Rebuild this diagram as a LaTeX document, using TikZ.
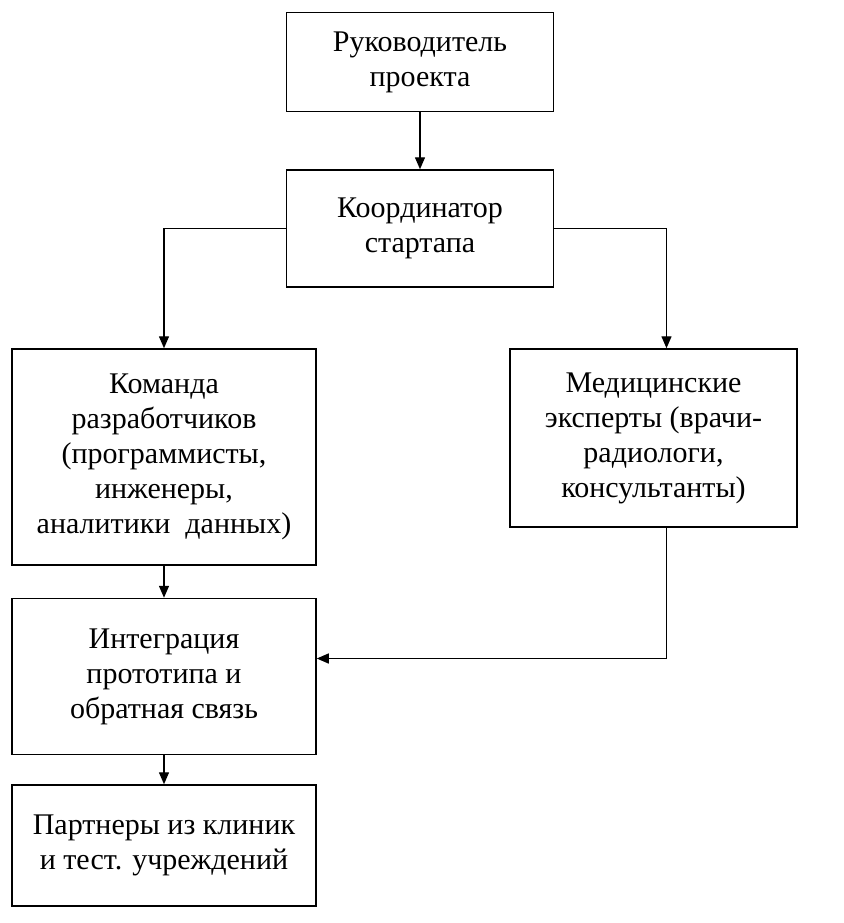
\documentclass[tikz,border=0pt]{standalone}
\usepackage{fontspec}
\setmainfont{Liberation Serif}
\usepackage{tikz}
\usetikzlibrary{arrows.meta, positioning}
\tikzset{
  % Org chart styles
  orgbox/.style={rectangle, draw=black, line width=0.75pt, fill=white, align=center, inner sep=2pt,
    font=\fontsize{15pt}{17.5pt}\selectfont},
  arrow/.style={-{Triangle[length=6pt, width=5pt]}, line width=0.7pt},
  link/.style={line width=0.7pt},
}

\begin{document}
\begin{tikzpicture}[x=0.5pt, y=-0.5pt]
    \useasboundingbox (0,0) rectangle (843,923);

    % Top
    \node[orgbox, minimum width=133.5pt, minimum height=49.5pt] (lead) at (420,62) {Руководитель\\проекта};
    \node[orgbox, minimum width=133.5pt, minimum height=58.5pt, below=28.5pt of lead] (coord) {Координатор\\стартапа};

    % Teams
    \node[orgbox, minimum width=152pt, minimum height=108pt] (devs) at (164,457) {Команда\\разработчиков\\(программисты,\\инженеры,\\аналитики\ \ данных)};
    \node[orgbox, minimum width=143.5pt, minimum height=89pt] (experts) at (653.5,438) {Медицинские\\эксперты (врачи-\\радиологи,\\консультанты)};

    % Lower column
    \node[orgbox, minimum width=152pt, minimum height=78pt, below=16pt of devs] (integr) {Интеграция\\прототипа и\\обратная связь};
    \node[orgbox, minimum width=152pt, minimum height=60.5pt, below=14.5pt of integr] (partners) {Партнеры из клиник\\и тест. учреждений};

    % Arrows
    \draw[arrow] (lead) -- (coord);
    \draw[arrow] (coord.west) -| (devs.north);
    \draw[arrow] (coord.east) -| ([xshift=6.5pt]experts.north);
    \draw[arrow] (devs) -- (integr);
    \draw[arrow] ([xshift=6.5pt]experts.south) |- ([yshift=9pt]integr.east);
    \draw[arrow] (integr) -- (partners);
\end{tikzpicture}
\end{document}
